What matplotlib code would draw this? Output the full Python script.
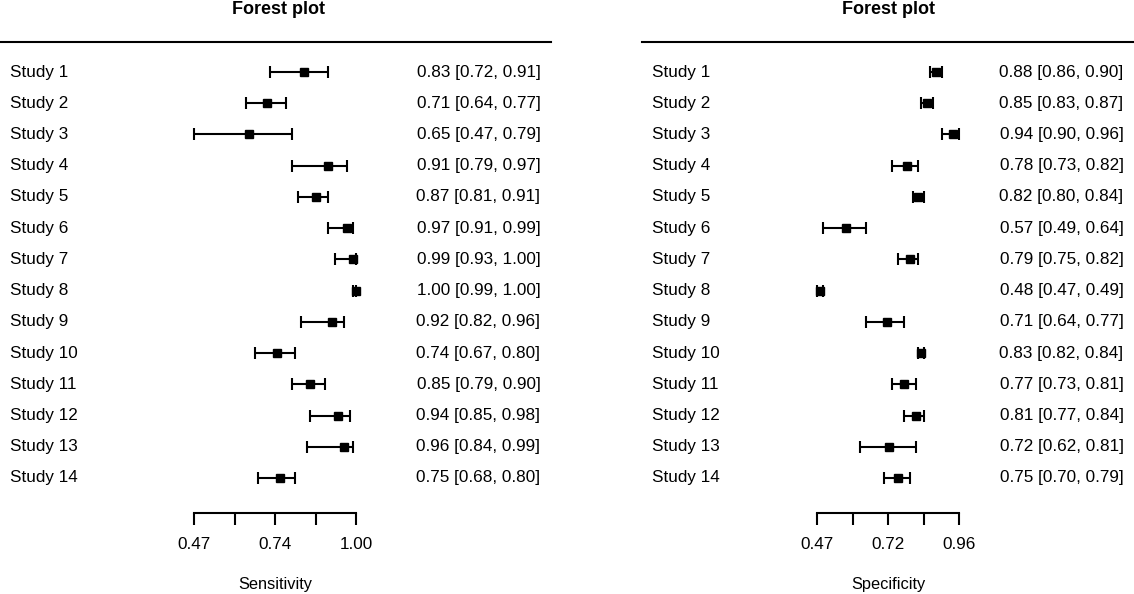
import numpy as np
import matplotlib
matplotlib.use('Agg')
import matplotlib.pyplot as plt
import matplotlib.transforms as mtransforms

plt.rcParams['font.family'] = ['Liberation Sans', 'DejaVu Sans']

studies = ["Study %d" % i for i in range(1, 15)]

sens = [0.83, 0.71, 0.65, 0.91, 0.87, 0.97, 0.99, 1.00, 0.92, 0.74, 0.85, 0.94, 0.96, 0.75]
sens_lo = [0.72, 0.64, 0.47, 0.79, 0.81, 0.91, 0.93, 0.99, 0.82, 0.67, 0.79, 0.85, 0.84, 0.68]
sens_hi = [0.91, 0.77, 0.79, 0.97, 0.91, 0.99, 1.00, 1.00, 0.96, 0.80, 0.90, 0.98, 0.99, 0.80]
sens_ticks = [0.47, 0.6025, 0.735, 0.8675, 1.00]
sens_ticklabels = ["0.47", "", "0.74", "", "1.00"]

spec = [0.88, 0.85, 0.94, 0.78, 0.82, 0.57, 0.79, 0.48, 0.71, 0.83, 0.77, 0.81, 0.72, 0.75]
spec_lo = [0.86, 0.83, 0.90, 0.73, 0.80, 0.49, 0.75, 0.47, 0.64, 0.82, 0.73, 0.77, 0.62, 0.70]
spec_hi = [0.90, 0.87, 0.96, 0.82, 0.84, 0.64, 0.82, 0.49, 0.77, 0.84, 0.81, 0.84, 0.81, 0.79]
spec_ticks = [0.47, 0.5925, 0.715, 0.8375, 0.96]
spec_ticklabels = ["0.47", "", "0.72", "", "0.96"]

W, H = 1134, 594
FS = 12.3

fig = plt.figure(figsize=(W / 100, H / 100), dpi=100)


def panel(px0, px1, ax_px0, ax_px1, est, lo, hi, ticks, ticklabels, xlabel, title_frac):
    ax = fig.add_axes([px0 / W, 0, (px1 - px0) / W, 1])
    ax.axis('off')
    # x scale: ticks[0] -> ax_px0, ticks[-1] -> ax_px1 (pixels)
    scale = (ax_px1 - ax_px0) / (ticks[-1] - ticks[0])
    ax.set_xlim(ticks[0] - (ax_px0 - px0) / scale, ticks[0] + (px1 - ax_px0) / scale)
    # y: row 1 at pixel 72, row spacing 31.23 px
    sp = 31.23
    ax.set_ylim(1 + (H - 72) / sp, 1 - 72 / sp)

    rows = np.arange(1, len(est) + 1)
    est = np.array(est)
    lo = np.array(lo)
    hi = np.array(hi)
    ax.errorbar(est, rows, xerr=[est - lo, hi - est], fmt='s', color='black',
                ms=6, ecolor='black', elinewidth=1.5, capsize=4, capthick=1.5)

    tr = mtransforms.blended_transform_factory(ax.transAxes, ax.transData)
    for r, name, e, l, h in zip(rows, studies, est, lo, hi):
        ax.text(10 / (px1 - px0), r, name, transform=tr, ha='left', va='center', fontsize=FS)
        ax.text(1 - 10.5 / (px1 - px0), r, "%.2f [%.2f, %.2f]" % (e, l, h), transform=tr,
                ha='right', va='center', fontsize=FS)

    # header line and title
    ax.plot([0, 1], [1 - 30 / sp] * 2, transform=tr, color='black', lw=1.5, clip_on=False)
    ax.text(title_frac, 1 - 62 / sp, "Forest plot", transform=tr, ha='center', va='center',
            fontsize=13, fontweight='bold')

    # bottom axis
    y_ax = 1 + 441 / sp
    ax.plot([ticks[0], ticks[-1]], [y_ax, y_ax], color='black', lw=1.5)
    ax.vlines(ticks, y_ax, y_ax + 12 / sp, color='black', lw=1.5)
    for t, lab in zip(ticks, ticklabels):
        ax.text(t, 1 + 473 / sp, lab, ha='center', va='center', fontsize=FS)
    ax.text((ticks[0] + ticks[-1]) / 2, 1 + 513 / sp, xlabel, ha='center', va='center', fontsize=FS - 0.5)
    return ax


panel(0, 551, 194, 356, sens, sens_lo, sens_hi, sens_ticks, sens_ticklabels, "Sensitivity", 0.506)
panel(642, 1134, 817, 959, spec, spec_lo, spec_hi, spec_ticks, spec_ticklabels, "Specificity", 0.5)

fig.savefig("out.png", dpi=100)
